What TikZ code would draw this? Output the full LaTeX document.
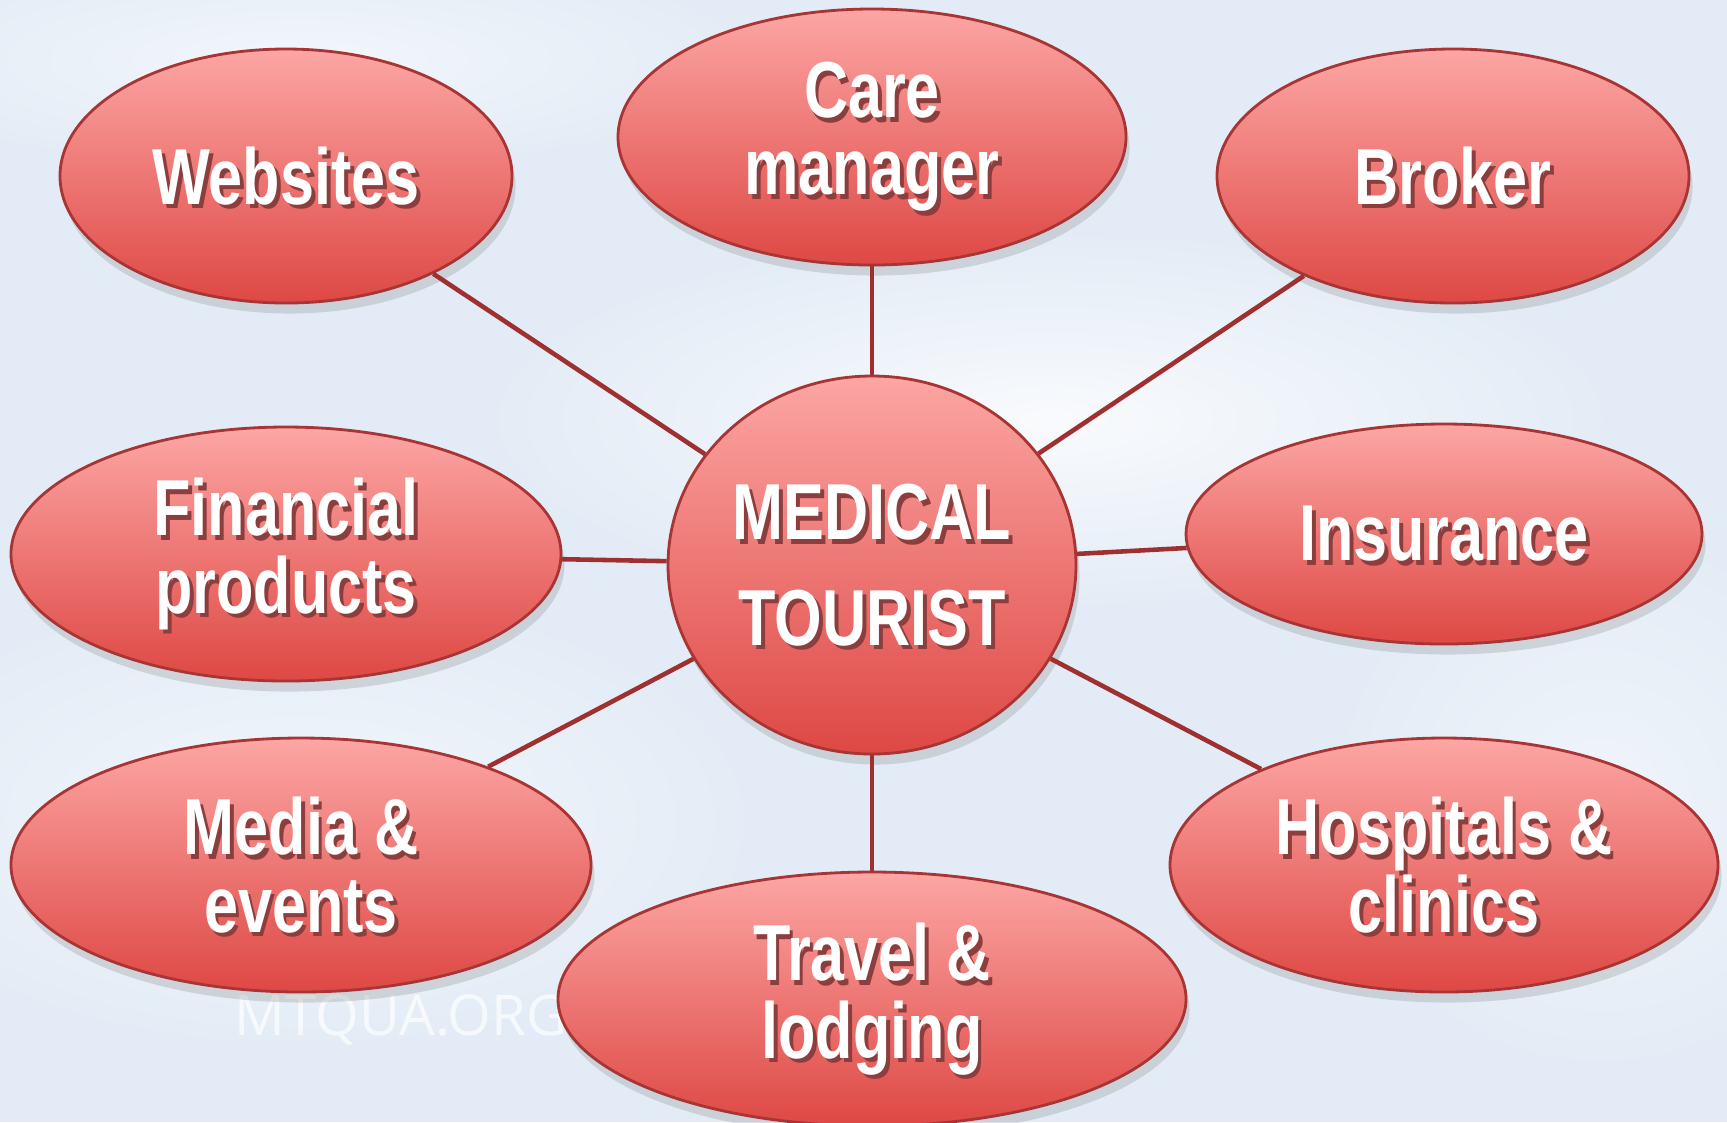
\documentclass[tikz,border=0pt]{standalone}
\usepackage{fontspec}
\newfontfamily\narrowfont{Liberation Sans}[FakeStretch=0.77]
\newfontfamily\markfont{Open Sans}
\usetikzlibrary{shapes.geometric,shadows,fadings}

\definecolor{bubbletop}{RGB}{252,166,164}
\definecolor{bubblebot}{RGB}{222,72,68}
\definecolor{bubbleline}{RGB}{168,52,52}
\definecolor{linkred}{RGB}{158,48,48}
\definecolor{txtshadow}{RGB}{140,62,62}
\definecolor{skyblue}{RGB}{226,235,246}

\tikzfading[name=cloudfade, inner color=transparent!0, outer color=transparent!100]

\tikzset{
  lbl/.style={font=\narrowfont\bfseries\fontsize{22.6}{22}\selectfont, align=center, inner sep=0pt},
  bubble/.style={ellipse, inner sep=0pt, draw=bubbleline, line width=.8pt,
    top color=bubbletop, bottom color=bubblebot,
    drop shadow={shadow xshift=1pt, shadow yshift=-3pt, opacity=.25},
    path picture={\node[lbl, text=txtshadow] at ([shift={(1.1pt,-1.3pt)}]path picture bounding box.center) {#1};},
    lbl, text=white, node contents={#1}},
  link/.style={linkred, line width=1.3pt}
}

\begin{document}
\begin{tikzpicture}
\useasboundingbox (0,0) rectangle (17.27,-11.22);

%%%%%%%%%%%%%-------------sky
\fill[skyblue] (0,0) rectangle (17.27,-11.22);
\fill[white, path fading=cloudfade, opacity=.8] (10.5,-4.2) ellipse (6 and 2);
\fill[white, path fading=cloudfade, opacity=.6] (3,-8.2) ellipse (5 and 2.5);
\fill[white, path fading=cloudfade, opacity=.6] (3,-.6) ellipse (5 and 1.2);
\fill[white, path fading=cloudfade, opacity=.5] (16,-8) ellipse (3 and 3);

\node[font=\markfont\fontsize{16}{16}\selectfont, text=white, text opacity=.7, anchor=base] (mark) at (4.01,-10.35) {MTQUA.ORG};

%%%%%%%%%%%%%-------------bubbles
\node (hub) at (8.72,-5.65) [bubble={MEDICAL\\[8pt]TOURIST}, minimum width=4.08cm, minimum height=3.78cm];

\node (web) at (2.86,-1.76) [bubble={Websites}, minimum width=4.52cm, minimum height=2.54cm];
\node (care) at (8.72,-1.37) [bubble={Care\\manager}, minimum width=5.08cm, minimum height=2.56cm];
\node (broker) at (14.53,-1.76) [bubble={Broker}, minimum width=4.72cm, minimum height=2.54cm];
\node (fin) at (2.86,-5.54) [bubble={Financial\\products}, minimum width=5.5cm, minimum height=2.54cm];
\node (ins) at (14.44,-5.34) [bubble={Insurance}, minimum width=5.16cm, minimum height=2.2cm];
\node (media) at (3.01,-8.65) [bubble={Media \&\\events}, minimum width=5.8cm, minimum height=2.54cm];
\node (travel) at (8.72,-9.99) [bubble={Travel \&\\lodging}, minimum width=6.28cm, minimum height=2.54cm];
\node (hosp) at (14.44,-8.65) [bubble={Hospitals \&\\clinics}, minimum width=5.48cm, minimum height=2.54cm];

%%%%%%%%%%%%%-------------links
\foreach \n in {web,care,broker,fin,ins,media,travel,hosp}{
\draw[link] (hub) -- (\n);}

\end{tikzpicture}
\end{document}
